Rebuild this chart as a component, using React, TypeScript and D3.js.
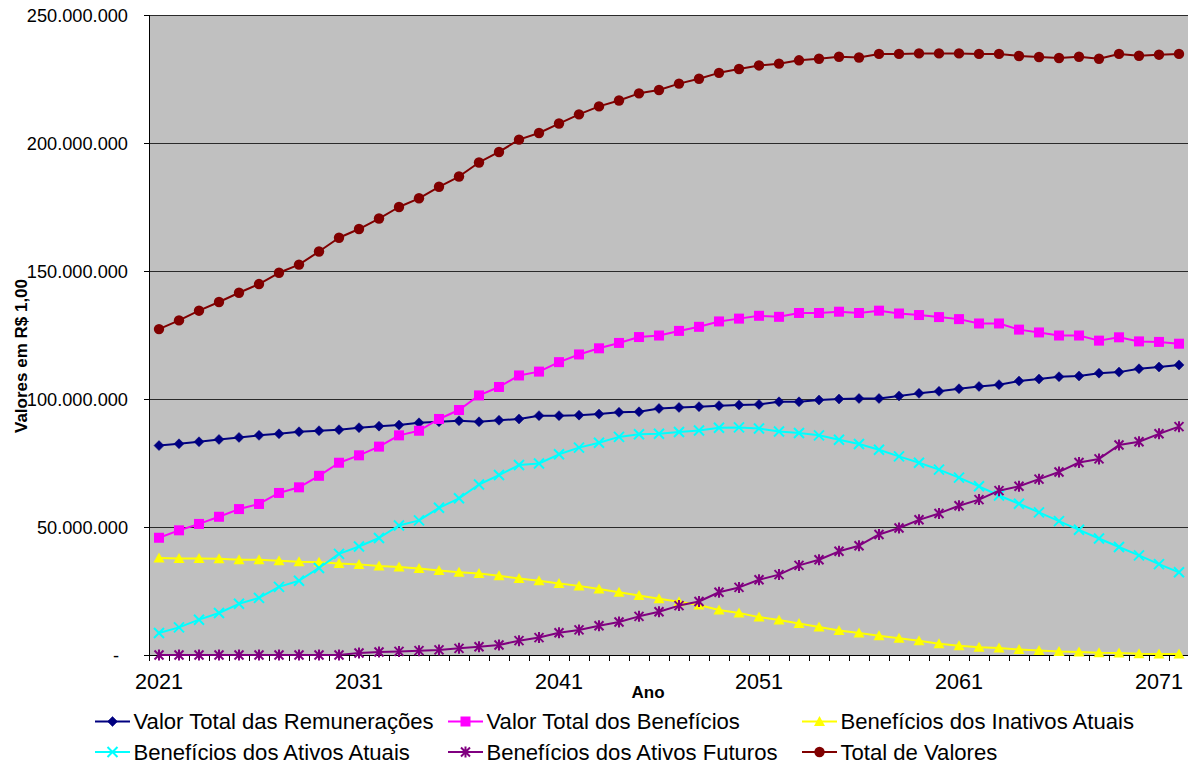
import React from "react";
import * as d3 from "d3";

const years: number[] = [
  2021, 2022, 2023, 2024, 2025, 2026, 2027, 2028, 2029, 2030,
  2031, 2032, 2033, 2034, 2035, 2036, 2037, 2038, 2039, 2040,
  2041, 2042, 2043, 2044, 2045, 2046, 2047, 2048, 2049, 2050,
  2051, 2052, 2053, 2054, 2055, 2056, 2057, 2058, 2059, 2060,
  2061, 2062, 2063, 2064, 2065, 2066, 2067, 2068, 2069, 2070,
  2071, 2072,
];

// values in millions of R$
const remuneracoes: number[] = [
  81.8, 82.5, 83.3, 84.2, 85.0, 85.8, 86.4, 87.2, 87.6, 88.0,
  88.8, 89.4, 89.8, 90.7, 91.1, 91.5, 91.1, 91.7, 92.2, 93.5,
  93.5, 93.7, 94.1, 94.8, 95.0, 96.3, 96.7, 97.0, 97.4, 97.7,
  97.9, 98.9, 98.9, 99.6, 100.0, 100.2, 100.2, 101.2, 102.2, 103.0,
  104.0, 104.9, 105.6, 107.0, 107.8, 108.7, 109.0, 110.1, 110.5, 111.8,
  112.5, 113.3,
];
const beneficios: number[] = [
  45.8, 48.7, 51.2, 54.0, 57.0, 59.0, 63.3, 65.5, 70.0, 75.1,
  78.0, 81.4, 85.8, 87.6, 92.2, 95.7, 101.4, 104.7, 109.2, 110.7,
  114.4, 117.4, 119.8, 121.9, 124.2, 124.8, 126.6, 128.2, 130.3, 131.4,
  132.5, 132.1, 133.6, 133.6, 134.1, 133.6, 134.5, 133.4, 132.8, 132.0,
  131.2, 129.5, 129.5, 127.1, 126.0, 124.8, 124.8, 122.8, 124.1, 122.5,
  122.3, 121.6,
];
const inativosAtuais: number[] = [
  37.9, 37.7, 37.7, 37.6, 37.2, 37.2, 36.8, 36.4, 36.2, 35.7,
  35.4, 34.8, 34.4, 33.8, 33.0, 32.3, 31.8, 31.0, 29.9, 29.0,
  27.9, 27.0, 25.8, 24.5, 23.2, 22.0, 20.8, 19.5, 17.6, 16.4,
  14.8, 13.7, 12.3, 10.9, 9.6, 8.6, 7.5, 6.5, 5.6, 4.4,
  3.6, 3.0, 2.7, 2.1, 1.8, 1.4, 1.2, 0.9, 0.8, 0.5,
  0.4, 0.4,
];
const ativosAtuais: number[] = [
  8.6, 10.8, 13.8, 16.4, 20.0, 22.3, 26.6, 29.0, 34.0, 39.5,
  42.4, 45.7, 50.6, 52.6, 57.5, 61.2, 66.6, 70.3, 74.2, 74.8,
  78.4, 81.0, 82.9, 85.2, 86.2, 86.4, 87.1, 87.7, 88.8, 88.9,
  88.5, 87.3, 86.7, 85.8, 84.1, 82.4, 80.2, 77.6, 75.1, 72.4,
  69.3, 65.9, 62.3, 59.1, 55.7, 52.3, 48.9, 45.5, 42.2, 38.9,
  35.5, 32.3,
];
const ativosFuturos: number[] = [
  0, 0, 0, 0, 0, 0, 0, 0, 0, 0,
  0.8, 1.2, 1.4, 1.7, 2.0, 2.6, 3.2, 3.9, 5.6, 6.8,
  8.7, 9.8, 11.4, 12.9, 15.1, 16.9, 19.3, 20.9, 24.5, 26.4,
  29.4, 31.4, 35.0, 37.2, 40.5, 42.7, 47.1, 49.6, 52.8, 55.3,
  58.3, 60.7, 64.2, 65.9, 68.7, 71.5, 75.2, 76.6, 82.0, 83.3,
  86.4, 89.2,
];
const totalValores: number[] = [
  127.3, 130.7, 134.5, 137.9, 141.5, 144.9, 149.3, 152.5, 157.6, 163.0,
  166.4, 170.5, 175.0, 178.4, 182.9, 186.9, 192.4, 196.5, 201.3, 203.9,
  207.6, 211.2, 214.3, 216.6, 219.4, 220.7, 223.2, 225.1, 227.4, 228.9,
  230.3, 231.0, 232.3, 232.9, 233.7, 233.4, 234.8, 234.8, 235.0, 235.0,
  235.0, 234.8, 234.8, 234.0, 233.6, 233.2, 233.7, 232.9, 234.8, 234.1,
  234.5, 234.8,
];

const yTickValues: number[] = [0, 50, 100, 150, 200, 250];
const yTickLabels: string[] = ["-", "50.000.000", "100.000.000", "150.000.000", "200.000.000", "250.000.000"];
const xLabelYears: number[] = [2021, 2031, 2041, 2051, 2061, 2071];

const seriesNames: string[] = [
  "Valor Total das Remunerações",
  "Valor Total dos Benefícios",
  "Benefícios dos Inativos Atuais",
  "Benefícios dos Ativos Atuais",
  "Benefícios dos Ativos Futuros",
  "Total de Valores",
];
const seriesColors: string[] = ["#000080", "#FF00FF", "#FFFF00", "#00FFFF", "#800080", "#800000"];
const seriesMarkers: string[] = ["diamond", "square", "triangle", "x", "star", "circle"];
const seriesValues: number[][] = [remuneracoes, beneficios, inativosAtuais, ativosAtuais, ativosFuturos, totalValores];

const FONT = "'Liberation Sans', Arial, Helvetica, sans-serif";

function Marker({ type, color, x, y }: { type: string; color: string; x: number; y: number }) {
  const t = `translate(${x},${y})`;
  switch (type) {
    case "diamond":
      return <path transform={t} d="M0,-5L5,0L0,5L-5,0Z" fill={color} stroke={color} strokeWidth={0.5} />;
    case "square":
      return <rect transform={t} x={-5} y={-5} width={10} height={10} fill={color} />;
    case "triangle":
      return <path transform={t} d="M0,-5.5L5.5,4.5L-5.5,4.5Z" fill={color} />;
    case "x":
      return <path transform={t} d="M-5,-5L5,5M-5,5L5,-5" stroke={color} strokeWidth={2} fill="none" />;
    case "star":
      return <path transform={t} d="M-4.5,-4.5L4.5,4.5M-4.5,4.5L4.5,-4.5M0,-5.5L0,5.5" stroke={color} strokeWidth={2} fill="none" />;
    case "circle":
    default:
      return <circle cx={x} cy={y} r={5.2} fill={color} />;
  }
}

export default function App() {
  const W = 1188;
  const H = 767;
  const left = 149;
  const right = 1189;
  const top = 15;
  const bottom = 655;

  const x = d3.scaleBand<number>().domain(years).range([left, right]).paddingInner(0).paddingOuter(0);
  const y = d3.scaleLinear().domain([0, 250]).range([bottom, top]);
  const cx = (yr: number) => (x(yr) as number) + x.bandwidth() / 2;

  const line = d3
    .line<number>()
    .x((_, i) => cx(years[i]))
    .y((d) => y(d));

  const boundaries = d3.range(years.length + 1).map((i) => left + i * x.bandwidth());

  const legendCols = [95, 448, 802];
  const legendRows = [721.5, 752];

  return (
    <svg width={W} height={H} style={{ position: "absolute", left: 0, top: 0, background: "#fff" }} fontFamily={FONT}>
      <rect x={left} y={top} width={right - left} height={bottom - top} fill="#C0C0C0" />
      {yTickValues.map((v) =>
        v > 0 ? (
          <line key={`g${v}`} x1={left} x2={right} y1={y(v) + 0.5} y2={y(v) + 0.5} stroke="#2a2a2a" strokeWidth={1} />
        ) : null
      )}
      {/* axes */}
      <line x1={left + 0.5} x2={left + 0.5} y1={top} y2={bottom + 1} stroke="#000" strokeWidth={1} />
      <line x1={left} x2={right} y1={bottom + 0.5} y2={bottom + 0.5} stroke="#000" strokeWidth={1} />
      {yTickValues.map((v) => (
        <line key={`yt${v}`} x1={left - 5} x2={left} y1={y(v) + 0.5} y2={y(v) + 0.5} stroke="#000" strokeWidth={1} />
      ))}
      {boundaries.map((b, i) => (
        <line key={`xt${i}`} x1={b + 0.5} x2={b + 0.5} y1={bottom} y2={bottom + 6} stroke="#000" strokeWidth={1} />
      ))}
      {yTickValues.map((v, i) => (
        <text
          key={`yl${v}`}
          x={v === 0 ? 119 : 128}
          y={y(v) + 0.5}
          dy="0.36em"
          textAnchor="end"
          fontSize={18.2}
          fill="#000"
        >
          {yTickLabels[i]}
        </text>
      ))}
      {xLabelYears.map((yr) => (
        <text key={`xl${yr}`} x={cx(yr)} y={688.5} textAnchor="middle" fontSize={21.6} fill="#000">
          {yr}
        </text>
      ))}
      <text x={648} y={698} textAnchor="middle" fontSize={17} fontWeight="bold" fill="#000">
        Ano
      </text>
      <text
        transform={`translate(26.5,356) rotate(-90)`}
        textAnchor="middle"
        fontSize={17}
        fontWeight="bold"
        fill="#000"
      >
        Valores em R$ 1,00
      </text>
      {/* series */}
      {seriesValues.map((vals, s) => (
        <g key={`s${s}`}>
          <path d={line(vals) || ""} fill="none" stroke={seriesColors[s]} strokeWidth={2} strokeLinejoin="round" />
          {vals.map((v, i) => (
            <Marker key={i} type={seriesMarkers[s]} color={seriesColors[s]} x={cx(years[i])} y={y(v)} />
          ))}
        </g>
      ))}
      {/* legend */}
      {seriesNames.map((name, s) => {
        const col = s % 3;
        const row = Math.floor(s / 3);
        const lx = legendCols[col];
        const ly = legendRows[row];
        return (
          <g key={`lg${s}`}>
            <line x1={lx} x2={lx + 35} y1={ly} y2={ly} stroke={seriesColors[s]} strokeWidth={2} />
            <Marker type={seriesMarkers[s]} color={seriesColors[s]} x={lx + 17.5} y={ly} />
            <text x={lx + 38.5} y={ly + 7.5} fontSize={22.1} fill="#000">
              {name}
            </text>
          </g>
        );
      })}
    </svg>
  );
}
